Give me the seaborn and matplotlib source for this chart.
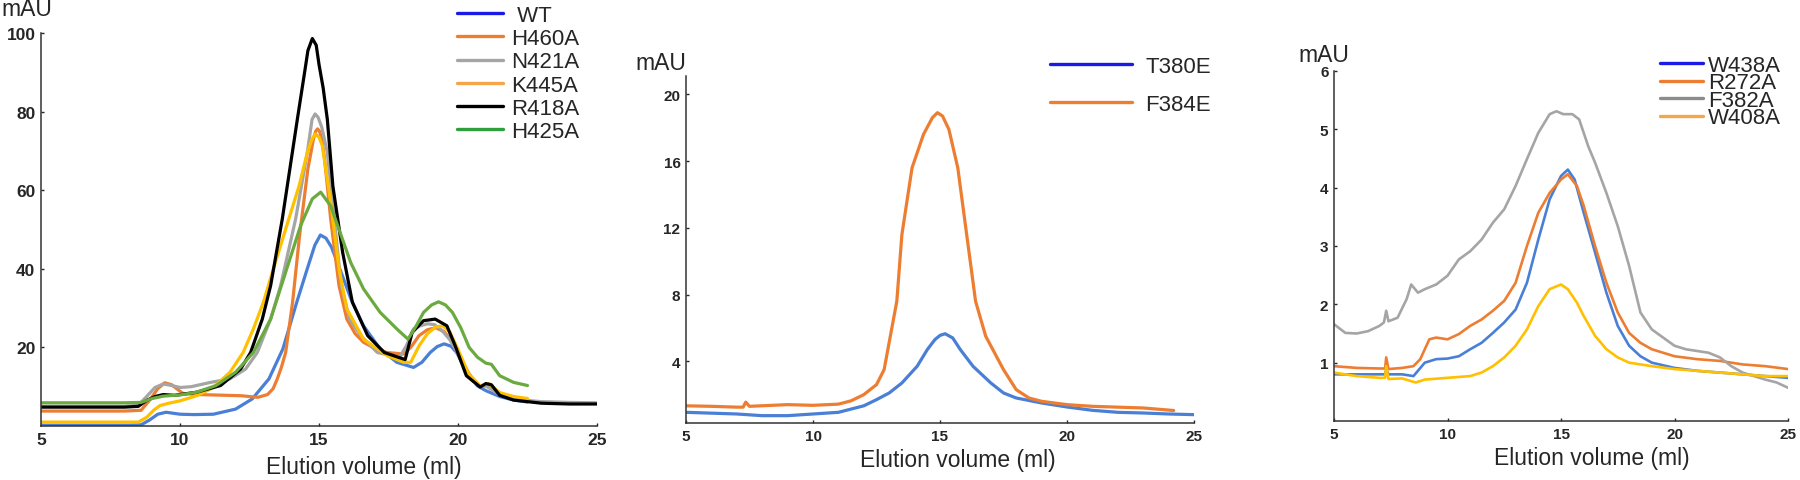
import matplotlib
matplotlib.use("Agg")
import matplotlib.pyplot as plt
from matplotlib.lines import Line2D
import pandas as pd
import seaborn as sns

# ---- panel 1: His mutants ----
wt_x = [5, 6, 7, 8, 8.6, 8.9, 9.2, 9.5, 10, 10.5, 11.2, 12, 12.6, 13.2, 13.7, 14.2, 14.6, 14.85, 15.05,
        15.25, 15.45, 15.8, 16.15, 16.6, 17.2, 17.8, 18.4, 18.7, 19.0, 19.25, 19.5, 19.75, 19.95, 20.3,
        20.7, 21.0, 21.5, 22.0, 22.5]
wt_y = [0.2, 0.2, 0.2, 0.2, 0.3, 1.5, 3.0, 3.5, 3.0, 2.9, 3.0, 4.3, 6.9, 12, 19.6, 31.5, 40.5, 46, 48.6,
        47.8, 45.5, 39, 32.3, 25.5, 19.6, 16.2, 14.9, 16.2, 18.7, 20.2, 20.9, 20.3, 18.7, 14, 10.2, 9.0,
        7.5, 6.6, 6.1]
h460a_x = [5, 6, 7, 8, 8.6, 8.9, 9.2, 9.45, 9.7, 10.1, 10.6, 11.2, 12.2, 12.8, 13.15, 13.35, 13.5, 13.65,
           13.8, 14.05, 14.3, 14.6, 14.8, 14.88, 14.95, 15.02, 15.1, 15.2, 15.42, 15.72, 16.0, 16.3, 16.6,
           17.0, 17.45, 18.05, 18.3, 18.6, 18.9, 19.2, 19.5, 19.8, 20.1, 20.5, 20.8, 21.1, 21.5, 22.0, 22.5]
h460a_y = [3.8, 3.8, 3.8, 3.8, 4.0, 6.5, 9.5, 11, 10.5, 8.3, 8.0, 7.9, 7.7, 7.3, 8.0, 9.5, 12, 15, 18.7,
           31.5, 48.4, 65.4, 73, 75, 75.6, 75, 73, 68, 52.7, 35.7, 27.2, 23.5, 21.3, 19.8, 18.7, 18.3, 20,
           23, 24.5, 25, 24, 21.5, 17, 12, 10, 10.5, 8.3, 7.2, 6.8]
n421a_x = [5, 6, 7, 8, 8.5, 8.8, 9.1, 9.4, 9.7, 10.0, 10.4, 11.1, 11.8, 12.36, 12.78, 13.26, 13.62, 14.16,
           14.58, 14.75, 14.86, 14.97, 15.1, 15.3, 15.55, 15.8, 16.1, 16.5, 17.1, 17.9, 18.15, 18.4, 18.65,
           18.9, 19.15, 19.4, 19.7, 19.95, 20.3, 20.8, 21.0, 21.5, 22, 23, 24, 25]
n421a_y = [5.0, 5.0, 5.0, 5.0, 5.3, 7.5, 9.8, 10.7, 10.3, 9.8, 10.0, 11.1, 12.0, 14.5, 18.7, 27.2, 35.7,
           52.7, 69.6, 78, 79.4, 78.5, 76, 69.6, 52.7, 35.7, 27.2, 23, 18.7, 17.5, 20.5, 24.7, 25.5, 26,
           25.8, 24.5, 22, 19, 14, 10, 10.2, 8, 6.8, 6.2, 6.0, 5.9]
k445a_x = [5, 6, 7, 8, 8.5, 8.8, 9.05, 9.28, 9.6, 10, 10.6, 11.2, 11.8, 12.27, 12.64, 13.0, 13.36, 13.84,
           14.28, 14.58, 14.75, 14.86, 15.0, 15.12, 15.42, 15.72, 16.0, 16.6, 17.45, 18.05, 18.3, 18.6,
           18.9, 19.2, 19.45, 19.7, 20.0, 20.4, 20.8, 21.1, 21.5, 22.0, 22.5]
k445a_y = [1.0, 1.0, 1.0, 1.0, 1.0, 2.2, 4.0, 5.2, 5.8, 6.4, 7.7, 9.8, 13.7, 18.7, 24.7, 31.5, 40, 51, 61,
           69.6, 73, 74.3, 73.5, 71.3, 56.9, 40, 29.8, 22.1, 17.9, 16.2, 16.2, 20.4, 23.5, 25.2, 25.5, 24,
           19.5, 13, 10.2, 10.8, 8.5, 7.5, 7.0]
r418a_x = [5, 6, 7, 8, 8.5, 8.8, 9.1, 9.4, 9.8, 10.6, 11.46, 12.18, 12.54, 12.96, 13.26, 13.68, 14.22, 14.5,
           14.6, 14.76, 14.9, 15.0, 15.15, 15.3, 15.5, 15.85, 16.2, 16.75, 17.35, 18.1, 18.35, 18.76, 19.18,
           19.6, 19.9, 20.3, 20.8, 21.0, 21.2, 21.5, 22, 22.5, 23, 24, 25]
r418a_y = [4.8, 4.8, 4.8, 4.8, 5.0, 6.5, 7.5, 8.0, 7.8, 8.6, 10.3, 14.5, 18.7, 27.2, 35.7, 52.7, 78, 90.8,
           95.5, 98.6, 96.9, 92, 86, 78, 61, 44.2, 31.5, 23, 18.7, 16.9, 23.8, 26.8, 27.2, 25.5, 20.4, 12.8,
           9.9, 10.8, 10.5, 7.8, 6.6, 6.2, 5.8, 5.6, 5.6]
h425a_x = [5, 6, 7, 8, 8.6, 9.0, 9.4, 10.0, 10.6, 11.3, 12.0, 12.64, 13.26, 13.84, 14.34, 14.76, 15.06,
           15.42, 15.72, 16.14, 16.6, 17.2, 17.8, 18.2, 18.5, 18.76, 19.05, 19.3, 19.55, 19.8, 20.1, 20.4,
           20.7, 21.0, 21.2, 21.5, 22.0, 22.5]
h425a_y = [5.9, 5.9, 5.9, 5.9, 6.0, 7.0, 7.6, 7.9, 8.6, 10.3, 13.7, 18.7, 27.2, 40, 51, 57.8, 59.5, 56, 50,
           41.6, 34.9, 28.9, 24.7, 22.1, 25.5, 28.9, 30.8, 31.6, 30.8, 28.9, 25, 20, 17.5, 16, 15.7, 12.8,
           11.1, 10.3]

# ---- panel 2: E mutants ----
t380e_x = [5, 7, 8, 9, 10, 11, 12, 12.5, 13, 13.5, 14.1, 14.5, 14.8, 15.0, 15.2, 15.5, 15.8, 16.3, 17, 17.5,
           18, 19, 20, 21, 22, 23, 24, 25]
t380e_y = [0.94, 0.84, 0.74, 0.74, 0.84, 0.94, 1.33, 1.7, 2.1, 2.7, 3.7, 4.7, 5.3, 5.55, 5.65, 5.4, 4.7,
           3.7, 2.7, 2.1, 1.8, 1.5, 1.26, 1.06, 0.94, 0.9, 0.84, 0.8]
f384e_x = [5, 6, 7, 7.25, 7.35, 7.5, 9, 10, 11, 11.5, 12, 12.5, 12.8, 13.3, 13.5, 13.9, 14.35, 14.7, 14.9,
           15.1, 15.35, 15.7, 16.05, 16.4, 16.8, 17.5, 18, 18.5, 19, 20, 21, 22, 23, 24.2]
f384e_y = [1.33, 1.3, 1.25, 1.25, 1.55, 1.3, 1.4, 1.36, 1.43, 1.63, 2.0, 2.6, 3.5, 7.6, 11.6, 15.6, 17.6,
           18.6, 18.9, 18.7, 17.9, 15.6, 11.6, 7.6, 5.5, 3.5, 2.3, 1.8, 1.6, 1.4, 1.3, 1.25, 1.2, 1.05]

# ---- panel 3: A mutants ----
w438a_x = [5, 6, 7, 7.25, 7.3, 7.4, 8, 8.5, 9, 9.5, 10, 10.5, 11, 11.5, 12, 12.5, 13, 13.5, 14, 14.5, 15,
           15.3, 15.6, 16, 16.5, 17, 17.5, 18, 18.5, 19, 20, 21, 22, 23, 24, 25]
w438a_y = [0.8, 0.8, 0.8, 0.8, 0.88, 0.8, 0.8, 0.77, 1.0, 1.06, 1.07, 1.11, 1.23, 1.34, 1.51, 1.69, 1.91,
           2.37, 3.11, 3.8, 4.2, 4.31, 4.14, 3.57, 2.89, 2.2, 1.63, 1.29, 1.11, 1.0, 0.91, 0.86, 0.83, 0.8,
           0.77, 0.74]
r272a_x = [5, 6, 7, 7.25, 7.3, 7.4, 8, 8.5, 8.8, 9.2, 9.5, 10, 10.5, 11, 11.5, 12, 12.5, 13, 13.5, 14,
           14.5, 15, 15.3, 15.7, 16, 16.5, 17, 17.5, 18, 18.5, 19, 20, 21, 22, 23, 24, 25]
r272a_y = [0.94, 0.91, 0.9, 0.9, 1.09, 0.89, 0.91, 0.94, 1.06, 1.4, 1.43, 1.4, 1.49, 1.63, 1.74, 1.89, 2.06,
           2.37, 3.0, 3.57, 3.91, 4.14, 4.23, 4.03, 3.69, 3.0, 2.37, 1.86, 1.51, 1.34, 1.23, 1.11, 1.06,
           1.03, 0.97, 0.94, 0.89]
f382a_x = [5, 5.5, 6, 6.5, 7, 7.2, 7.3, 7.4, 7.8, 8.2, 8.4, 8.7, 9, 9.5, 10, 10.5, 11, 11.5, 12, 12.5, 13,
           13.5, 14, 14.5, 14.8, 15.1, 15.5, 15.8, 16.2, 16.5, 17, 17.5, 18, 18.5, 19, 19.5, 20, 20.5, 21,
           21.5, 22, 22.5, 23, 23.5, 24, 24.5, 25]
f382a_y = [1.66, 1.51, 1.5, 1.54, 1.63, 1.69, 1.89, 1.71, 1.77, 2.09, 2.34, 2.2, 2.26, 2.34, 2.49, 2.77, 2.91,
           3.11, 3.4, 3.63, 4.03, 4.49, 4.94, 5.26, 5.31, 5.26, 5.26, 5.17, 4.71, 4.43, 3.91, 3.34, 2.66,
           1.86, 1.57, 1.43, 1.29, 1.23, 1.2, 1.17, 1.09, 0.94, 0.83, 0.77, 0.71, 0.66, 0.57]
w408a_x = [5, 6, 7, 7.25, 7.3, 7.4, 8, 8.6, 9, 10, 11, 11.5, 12, 12.5, 13, 13.5, 14, 14.5, 15, 15.3, 15.7,
           16, 16.5, 17, 17.5, 18, 19, 20, 21, 22, 23, 24, 25]
w408a_y = [0.83, 0.77, 0.74, 0.74, 0.94, 0.72, 0.73, 0.66, 0.71, 0.74, 0.77, 0.83, 0.94, 1.09, 1.29, 1.57,
           1.97, 2.26, 2.34, 2.26, 2.03, 1.8, 1.46, 1.23, 1.09, 1.0, 0.94, 0.89, 0.86, 0.83, 0.8, 0.77, 0.77]

BLUE, ORANGE, GRAY, GOLD, GREEN = "#4a7fd6", "#ed7d31", "#a5a5a5", "#ffc000", "#6aaa3e"
LEG_BLUE, LEG_GOLD, LEG_GREEN = "#1a1ae6", "#f5a64a", "#2f9e3c"

sns.set_style("ticks")
plt.rcParams["font.family"] = ["Liberation Sans", "DejaVu Sans"]


def draw_panel(ax, series, line_colors, legend_colors, lw, tick_size):
    frames = [pd.DataFrame({"volume": x, "mAU": y, "sample": name}) for name, x, y in series]
    df = pd.concat(frames, ignore_index=True)
    names = [s[0] for s in series]
    sns.lineplot(data=df, x="volume", y="mAU", hue="sample", hue_order=names,
                 palette=dict(zip(names, line_colors)), sort=False, estimator=None,
                 linewidth=lw, legend=False, ax=ax)
    sns.despine(ax=ax)
    for side in ["left", "bottom"]:
        ax.spines[side].set_linewidth(1.1)
        ax.spines[side].set_color("#333333")
    ax.set_xlim(5, 25)
    ax.set_xticks([5, 10, 15, 20, 25])
    ax.tick_params(direction="in", length=2.5, width=1, labelsize=tick_size, pad=4)
    for lab in ax.get_xticklabels() + ax.get_yticklabels():
        lab.set_fontweight("bold")
    ax.set_xlabel("Elution volume (ml)", fontsize=16.5)
    ax.set_ylabel("")
    handles = [Line2D([], [], color=c, lw=2.4) for c in legend_colors]
    return handles


fig = plt.figure(figsize=(18, 4.81), dpi=100)

# panel 1
ax1 = fig.add_axes([41 / 1800, 1 - 427 / 481, 556 / 1800, 393 / 481])
h1 = draw_panel(ax1, [("WT", wt_x, wt_y), ("H460A", h460a_x, h460a_y), ("N421A", n421a_x, n421a_y),
                      ("K445A", k445a_x, k445a_y), ("R418A", r418a_x, r418a_y), ("H425A", h425a_x, h425a_y)],
                [BLUE, ORANGE, GRAY, GOLD, "black", GREEN],
                [LEG_BLUE, ORANGE, GRAY, LEG_GOLD, "black", LEG_GREEN], 2.3, 12.5)
ax1.set_ylim(0, 100)
ax1.set_yticks([20, 40, 60, 80, 100])
ax1.xaxis.set_label_coords(0.581, -0.104)
ax1.xaxis.label.set_va("center")
ax1.legend(h1, [" WT", "H460A", "N421A", "K445A", "R418A", "H425A"], loc="upper left",
           bbox_to_anchor=(457 / 1800, 1 - 6 / 481), bbox_transform=fig.transFigure, frameon=False,
           fontsize=16, handlelength=2.07, handletextpad=0.36, labelspacing=0.1, borderpad=0,
           borderaxespad=0)
fig.text(27 / 1800, 1 - 10 / 481, "mAU", fontsize=16.5, ha="center", va="center")

# panel 2
ax2 = fig.add_axes([686 / 1800, 1 - 424 / 481, 508 / 1800, 347 / 481])
h2 = draw_panel(ax2, [("T380E", t380e_x, t380e_y), ("F384E", f384e_x, f384e_y)],
                [BLUE, ORANGE], [LEG_BLUE, ORANGE], 2.3, 11)
ax2.set_ylim(0.3, 21.1)
ax2.set_yticks([4, 8, 12, 16, 20])
ax2.xaxis.set_label_coords(0.535, -0.104)
ax2.xaxis.label.set_va("center")
ax2.legend(h2, ["T380E", "F384E"], loc="upper left",
           bbox_to_anchor=(1050 / 1800, 1 - 57 / 481), bbox_transform=fig.transFigure, frameon=False,
           fontsize=16, handlelength=3.7, handletextpad=0.59, labelspacing=0.77, borderpad=0,
           borderaxespad=0)
fig.text(661 / 1800, 1 - 63 / 481, "mAU", fontsize=16.5, ha="center", va="center")

# panel 3
ax3 = fig.add_axes([1334 / 1800, 1 - 422 / 481, 454 / 1800, 350 / 481])
h3 = draw_panel(ax3, [("W438A", w438a_x, w438a_y), ("R272A", r272a_x, r272a_y), ("F382A", f382a_x, f382a_y),
                      ("W408A", w408a_x, w408a_y)],
                [BLUE, ORANGE, GRAY, GOLD], [LEG_BLUE, ORANGE, "#8c8c8c", LEG_GOLD], 1.9, 11)
ax3.set_ylim(0, 6)
ax3.set_yticks([1, 2, 3, 4, 5, 6])
ax3.xaxis.set_label_coords(0.568, -0.103)
ax3.xaxis.label.set_va("center")
ax3.legend(h3, ["W438A", "R272A", "F382A", "W408A"], loc="upper left",
           bbox_to_anchor=(1660 / 1800, 1 - 56 / 481), bbox_transform=fig.transFigure, frameon=False,
           fontsize=16, handlelength=1.94, handletextpad=0.23, labelspacing=-0.16, borderpad=0,
           borderaxespad=0)
fig.text(1324 / 1800, 1 - 56 / 481, "mAU", fontsize=16.5, ha="center", va="center")

fig.savefig("out.png", dpi=100)
